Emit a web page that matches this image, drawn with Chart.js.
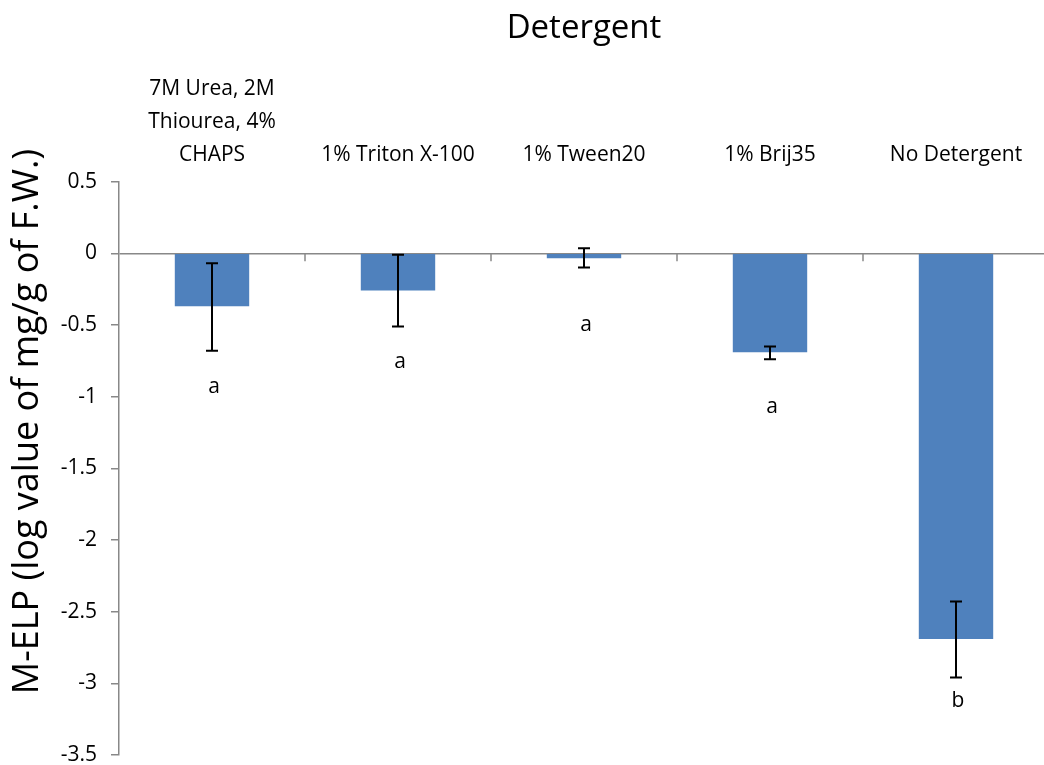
<!DOCTYPE html>
<html>
<head>
<meta charset="utf-8">
<script src="https://cdn.jsdelivr.net/npm/chart.js@4/dist/chart.umd.min.js"></script>
<style>
  html, body { margin: 0; padding: 0; background: #fff; overflow: hidden; }
  #wrap { width: 1049px; height: 765px; position: relative; }
</style>
</head>
<body>
<div id="wrap"><canvas id="chart"></canvas></div>
<script>
// Data
const categories = [['7M Urea, 2M', 'Thiourea, 4%', 'CHAPS'], '1% Triton X-100', '1% Tween20', '1% Brij35', 'No Detergent'];
const values = [-0.37, -0.26, -0.035, -0.69, -2.69];
const errHigh = [-0.07, -0.01, 0.035, -0.65, -2.43];
const errLow = [-0.68, -0.51, -0.10, -0.74, -2.96];
const groupLetters = ['a', 'a', 'a', 'a', 'b'];
const letterY = [-0.935, -0.76, -0.50, -1.07, -3.12];
const yTicks = [0.5, 0, -0.5, -1, -1.5, -2, -2.5, -3, -3.5];

const FONT = '"Open Sans", sans-serif';

// error bars + letters
const errorBars = {
    id: 'errorBars',
    afterDatasetsDraw(chart) {
        const { ctx, scales: { x, y } } = chart;
        ctx.save();
        ctx.strokeStyle = '#000';
        ctx.lineWidth = 2;
        values.forEach((v, i) => {
            const cx = x.getPixelForValue(i);
            const top = y.getPixelForValue(errHigh[i]);
            const bot = y.getPixelForValue(errLow[i]);
            ctx.beginPath();
            ctx.moveTo(cx, top); ctx.lineTo(cx, bot);
            ctx.moveTo(cx - 6, top); ctx.lineTo(cx + 6, top);
            ctx.moveTo(cx - 6, bot); ctx.lineTo(cx + 6, bot);
            ctx.stroke();
        });
        ctx.fillStyle = '#000';
        ctx.font = `21px ${FONT}`;
        ctx.textAlign = 'center';
        ctx.textBaseline = 'middle';
        groupLetters.forEach((t, i) => {
            ctx.fillText(t, x.getPixelForValue(i) + 2, y.getPixelForValue(letterY[i]));
        });
        ctx.restore();
    }
};

// category tick marks hanging off the zero line
const zeroTicks = {
    id: 'zeroTicks',
    afterDatasetsDraw(chart) {
        const { ctx, scales: { x, y } } = chart;
        const y0 = y.getPixelForValue(0);
        ctx.save();
        ctx.strokeStyle = '#888';
        ctx.lineWidth = 1.5;
        for (let i = 1; i < categories.length; i++) {
            const bx = (x.getPixelForValue(i - 1) + x.getPixelForValue(i)) / 2;
            ctx.beginPath();
            ctx.moveTo(bx, y0);
            ctx.lineTo(bx, y0 + 8);
            ctx.stroke();
        }
        ctx.restore();
    }
};

new Chart(document.getElementById('chart').getContext('2d'), {
    type: 'bar',
    data: {
        labels: categories,
        datasets: [{
            data: values,
            backgroundColor: '#4F81BD',
            barPercentage: 0.4,
            categoryPercentage: 1
        }]
    },
    options: {
        responsive: true,
        maintainAspectRatio: false,
        animation: false,
        layout: { padding: { left: 0, right: 0, top: 0, bottom: 10 } },
        plugins: {
            legend: { display: false },
            tooltip: { enabled: false },
            title: {
                display: true,
                fullSize: false,
                text: 'Detergent',
                color: '#000',
                font: { family: FONT, size: 33, weight: 'normal' },
                padding: { top: 9, bottom: 0 }
            }
        },
        scales: {
            x: {
                position: 'top',
                grid: { display: false },
                border: { display: false },
                ticks: {
                    color: '#000',
                    font: { family: FONT, size: 21, lineHeight: 1.57 },
                    padding: 2,
                    maxRotation: 0,
                    autoSkip: false
                },
                afterFit(scale) { scale.height = 133; }
            },
            y: {
                min: -3.5,
                max: 0.5,
                afterBuildTicks(scale) { scale.ticks = yTicks.map(v => ({ value: v })); },
                grid: {
                    color: c => (c.tick && c.tick.value === 0 ? '#888' : 'rgba(0,0,0,0)'),
                    tickColor: '#888',
                    tickLength: 8,
                    lineWidth: 1.5
                },
                border: { display: true, color: '#888', width: 1.5 },
                ticks: {
                    color: '#000',
                    font: { family: FONT, size: 21 },
                    padding: 14,
                    callback: v => String(v)
                },
                title: {
                    display: true,
                    text: '          M-ELP (log value of mg/g of F.W.)',
                    color: '#000',
                    font: { family: FONT, size: 36 },
                    padding: { top: 6, bottom: 0 }
                },
                afterFit(scale) {
                    scale.width = 119;
                    scale.paddingTop = 0;
                    scale.paddingBottom = 0;
                }
            }
        }
    },
    plugins: [errorBars, zeroTicks]
});
</script>
</body>
</html>
